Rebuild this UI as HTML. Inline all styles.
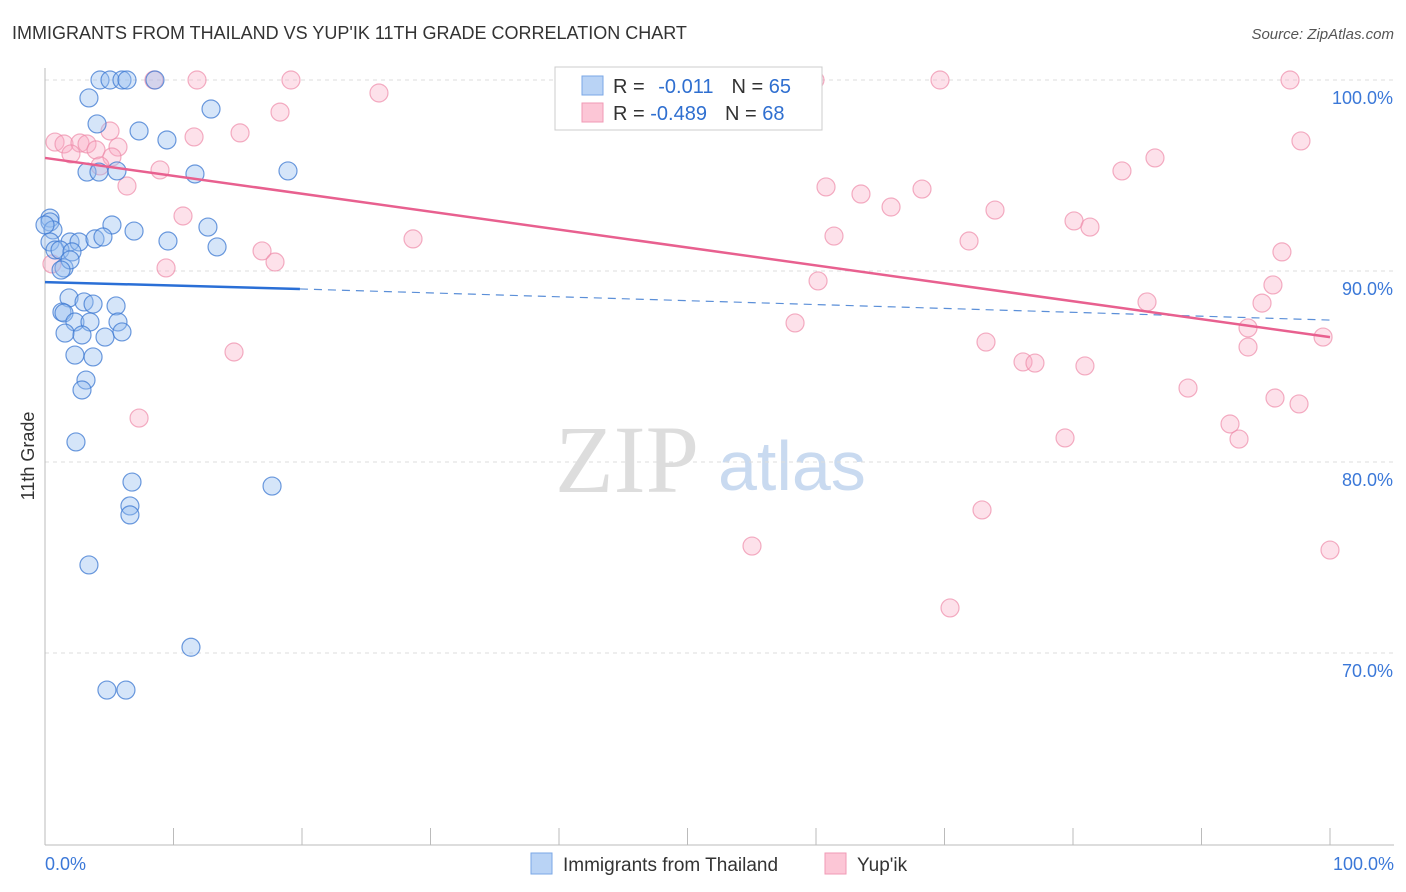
<!DOCTYPE html>
<html><head><meta charset="utf-8"><style>
body{margin:0;background:#fff;font-family:"Liberation Sans",sans-serif;}
svg{display:block}
</style></head><body>
<svg id="chart" width="1406" height="892" xmlns="http://www.w3.org/2000/svg">
<text x="12" y="39" font-size="18" fill="#333">IMMIGRANTS FROM THAILAND VS YUP'IK 11TH GRADE CORRELATION CHART</text>
<text x="1394" y="39" font-size="15" fill="#555" font-style="italic" text-anchor="end">Source: ZipAtlas.com</text>
<text x="34" y="456" font-size="18" fill="#333" text-anchor="middle" transform="rotate(-90 34 456)">11th Grade</text>
<text x="555" y="492" font-size="96" fill="#ddd" font-family="Liberation Serif,serif">ZIP</text>
<text x="718" y="490" font-size="70" fill="#c9daf0">atlas</text>
<g id="grid"></g><g id="axes"></g><g id="pts"></g><g id="trends"></g>
<g>
<rect x="555" y="67" width="267" height="63" fill="#fff" stroke="#ccc"/>
<rect x="582" y="76" width="21" height="19" fill="#b9d3f5" stroke="#7aa7e6"/>
<rect x="582" y="103" width="21" height="19" fill="#fcc6d6" stroke="#f09ab5"/>
<text x="613" y="93" font-size="20" fill="#333">R = <tspan fill="#2f6fd0" dx="8">-0.011</tspan><tspan dx="18" fill="#333">N = </tspan><tspan fill="#2f6fd0">65</tspan></text>
<text x="613" y="120" font-size="20" fill="#333">R = <tspan fill="#2f6fd0">-0.489</tspan><tspan dx="18" fill="#333">N = </tspan><tspan fill="#2f6fd0">68</tspan></text>
</g>
<g>
<rect x="531" y="853" width="21" height="21" fill="#b9d3f5" stroke="#7aa7e6"/>
<text x="563" y="871" font-size="19" fill="#333">Immigrants from Thailand</text>
<rect x="825" y="853" width="21" height="21" fill="#fcc6d6" stroke="#f09ab5"/>
<text x="857" y="871" font-size="19" fill="#333">Yup'ik</text>
</g>
<text x="45" y="870" font-size="18" fill="#3b78d8">0.0%</text>
<text x="1394" y="870" font-size="18" fill="#3b78d8" text-anchor="end">100.0%</text>
</svg>
<script>
const yTicks=[100,90,80,70];
const yTickLabels=["100.0%","90.0%","80.0%","70.0%"];
const blueX=[4.28,5.06,5.99,6.38,8.56,3.42,12.92,4.05,7.32,9.49,3.27,4.2,5.6,11.67,18.91,0.39,0.39,0.62,0,5.21,6.93,12.68,0.39,1.95,2.65,3.89,4.51,9.57,13.39,0.78,1.17,2.1,1.48,1.95,1.25,1.87,1.32,1.48,3.04,3.74,5.53,2.33,3.5,5.68,1.56,2.88,4.67,5.99,2.33,3.74,3.19,2.88,2.41,6.77,17.67,6.61,6.61,3.42,11.36,4.82,6.3];
const blueY=[100,100,100,100,100,99.06,98.48,97.7,97.33,96.86,95.18,95.18,95.24,95.08,95.24,92.77,92.57,92.15,92.41,92.41,92.09,92.3,91.52,91.52,91.52,91.68,91.78,91.57,91.26,91.1,91.1,91.0,90.16,90.58,90.05,88.59,87.85,87.8,88.38,88.27,88.17,87.33,87.33,87.33,86.75,86.65,86.54,86.81,85.6,85.5,84.29,83.77,81.05,78.95,78.74,77.7,77.23,74.61,70.3,68.06,68.06];
const pinkX=[8.48,11.83,19.14,41.4,59.92,69.65,96.89,25.99,18.29,5.06,11.6,15.18,0.78,1.48,2.72,3.27,2.02,3.97,5.68,5.21,4.28,6.38,8.95,60.78,63.5,65.84,68.25,73.93,83.81,86.38,97.74,10.74,28.64,16.89,17.9,9.42,61.4,71.91,80.08,81.32,96.26,60.16,95.56,94.71,85.76,58.37,73.23,76.11,77.04,80.93,93.62,93.62,99.46,88.95,95.72,97.59,79.38,92.22,92.92,14.71,7.32,72.92,55.02,70.43,100,0.54];
const pinkY=[100,100,100,100,100,100,100,99.32,98.32,97.33,97.02,97.23,96.75,96.65,96.7,96.65,96.13,96.34,96.49,95.97,95.5,94.45,95.29,94.4,94.03,93.35,94.29,93.19,95.24,95.92,96.81,92.88,91.68,91.05,90.47,90.16,91.83,91.57,92.62,92.3,91.0,89.48,89.27,88.32,88.38,87.28,86.28,85.24,85.18,85.03,87.02,86.02,86.54,83.87,83.35,83.04,81.26,81.99,81.2,85.76,82.3,77.49,75.6,72.36,75.39,90.37];
const blueTrend=[89.42,89.06,87.43]; // at x=0, 19.84, 100
const pinkTrend=[95.92,86.54];
const NS="http://www.w3.org/2000/svg";
const X=v=>45+v*12.85, Y=v=>80+(100-v)*19.1;
function mk(tag,attrs,parent){const e=document.createElementNS(NS,tag);for(const k in attrs)e.setAttribute(k,attrs[k]);document.getElementById(parent).appendChild(e);return e;}
yTicks.forEach((t,i)=>{
 const l=mk('line',{x1:45,x2:1394,y1:Y(t),y2:Y(t),stroke:'#ddd','stroke-dasharray':'4,4'},'grid');
 
 
 const tx=mk('text',{x:1393,y:Y(t)+24,'font-size':18,fill:'#3b78d8','text-anchor':'end'},'grid');
 tx.textContent=yTickLabels[i];
 
 
});
const ax=mk('line',{x1:45,x2:45,y1:68,y2:845,stroke:'#bbb'},'axes');


const bx=mk('line',{x1:45,x2:1394,y1:845,y2:845,stroke:'#bbb'},'axes');


for(let i=0;i<=10;i++){const t=mk('line',{x1:X(i*10),x2:X(i*10),y1:828,y2:845,stroke:'#bbb'},'axes');
 
 }
pinkX.forEach((v,i)=>{const c=mk('circle',{cx:X(v),cy:Y(pinkY[i]),r:9,fill:'rgba(248,170,195,0.35)',stroke:'rgba(238,140,170,0.7)','stroke-width':1.2},'pts');
 
 });
blueX.forEach((v,i)=>{const c=mk('circle',{cx:X(v),cy:Y(blueY[i]),r:9,fill:'rgba(150,190,240,0.4)',stroke:'rgba(60,120,210,0.75)','stroke-width':1.2},'pts');
 
 });
const b1=mk('line',{x1:X(0),y1:Y(blueTrend[0]),x2:X(19.84),y2:Y(blueTrend[1]),stroke:'#2a6fd6','stroke-width':2.5},'trends');


const b2=mk('line',{x1:X(19.84),y1:Y(blueTrend[1]),x2:X(100),y2:Y(blueTrend[2]),stroke:'#5b8fd8','stroke-width':1.2,'stroke-dasharray':'8,6'},'trends');


const p1=mk('line',{x1:X(0),y1:Y(pinkTrend[0]),x2:X(100),y2:Y(pinkTrend[1]),stroke:'#e8608f','stroke-width':2.5},'trends');


</script>
</body></html>
